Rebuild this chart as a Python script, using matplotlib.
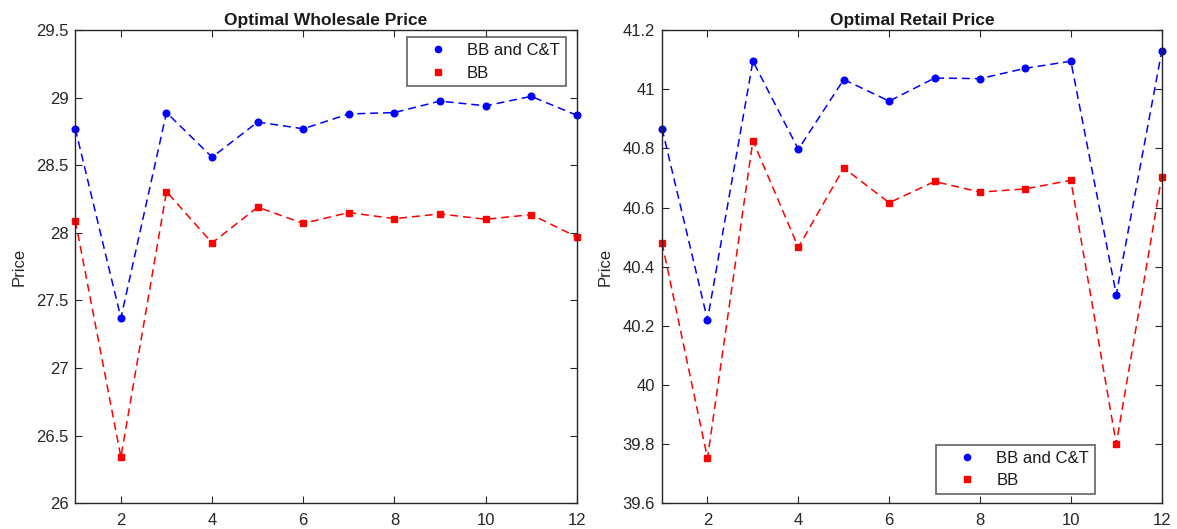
import matplotlib.pyplot as plt
from matplotlib.lines import Line2D

plt.rcParams['font.family'] = ['Liberation Sans', 'DejaVu Sans']

# period index
periods = list(range(1, 13))

# optimal wholesale price
wholesale_bbct = [28.77, 27.37, 28.89, 28.56, 28.82, 28.77, 28.88, 28.89, 28.975, 28.94, 29.01, 28.87]
wholesale_bb = [28.09, 26.34, 28.305, 27.925, 28.19, 28.07, 28.15, 28.105, 28.14, 28.10, 28.135, 27.97]

# optimal retail price
retail_bbct = [40.867, 40.22, 41.095, 40.797, 41.033, 40.96, 41.038, 41.036, 41.071, 41.095, 40.305, 41.128]
retail_bb = [40.48, 39.752, 40.826, 40.465, 40.734, 40.616, 40.688, 40.652, 40.663, 40.692, 39.80, 40.704]

fig = plt.figure(figsize=(11.77, 5.29), dpi=100)
ax1 = fig.add_axes([0.064, 0.049, 0.426, 0.894])
ax2 = fig.add_axes([0.5625, 0.049, 0.4245, 0.894])

axcol = '#262626'


def style(ax):
    for s in ax.spines.values():
        s.set_color(axcol)
        s.set_linewidth(1.0)
    ax.tick_params(direction='in', top=True, right=True, length=5,
                   colors=axcol, labelsize=12, width=0.8)
    ax.tick_params(axis='x', pad=7)
    ax.tick_params(axis='y', pad=5)
    ax.set_xlim(1, 12)
    ax.set_xticks([2, 4, 6, 8, 10, 12])
    ax.set_ylabel('Price', fontsize=12, color=axcol, labelpad=7)


def draw(ax, blue, red):
    ax.plot(periods, blue, color='blue', linestyle='--', dashes=(5.2, 3.2),
            linewidth=1.1, marker='o', markersize=4.8, clip_on=False)
    ax.plot(periods, red, color='red', linestyle='--', dashes=(5.2, 3.2),
            linewidth=1.1, marker='s', markersize=4.8, clip_on=False)


handles = [Line2D([], [], color='blue', marker='o', markersize=4.5, linestyle='none'),
           Line2D([], [], color='red', marker='s', markersize=4.5, linestyle='none')]
names = ['BB and C&T', 'BB']


def add_legend(ax, loc, anchor):
    leg = ax.legend(handles, names, loc=loc, bbox_to_anchor=anchor,
                    fontsize=12, frameon=True, fancybox=False, edgecolor='#3a3a3a',
                    handlelength=3.0, handletextpad=0.25, borderpad=0.35,
                    labelspacing=0.45, borderaxespad=0)
    leg.get_frame().set_linewidth(1.2)
    for t in leg.get_texts():
        t.set_color('#1a1a1a')


draw(ax1, wholesale_bbct, wholesale_bb)
style(ax1)
ax1.set_ylim(26, 29.5)
ax1.set_yticks([26, 26.5, 27, 27.5, 28, 28.5, 29, 29.5])
ax1.set_yticklabels(['26', '26.5', '27', '27.5', '28', '28.5', '29', '29.5'])
ax1.set_title('Optimal Wholesale Price', fontsize=12.5, fontweight='bold', color='#1a1a1a', pad=4)
add_legend(ax1, 'upper right', (0.978, 0.985))

draw(ax2, retail_bbct, retail_bb)
style(ax2)
ax2.set_ylim(39.6, 41.2)
ax2.set_yticks([39.6, 39.8, 40, 40.2, 40.4, 40.6, 40.8, 41, 41.2])
ax2.set_yticklabels(['39.6', '39.8', '40', '40.2', '40.4', '40.6', '40.8', '41', '41.2'])
ax2.set_title('Optimal Retail Price', fontsize=12.5, fontweight='bold', color='#1a1a1a', pad=4)
add_legend(ax2, 'lower right', (0.866, 0.019))

fig.savefig('out.png', dpi=100)
